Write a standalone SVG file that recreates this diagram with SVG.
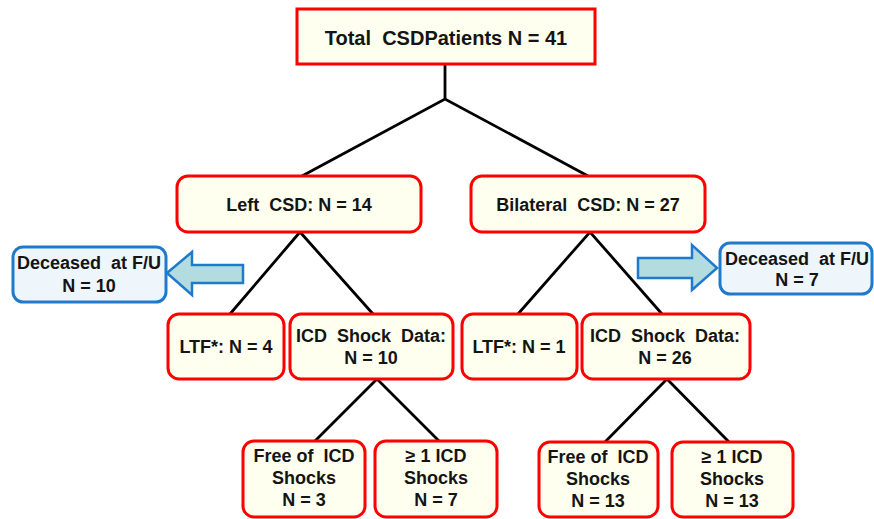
<svg xmlns="http://www.w3.org/2000/svg" width="874" height="519" viewBox="0 0 874 519">
<style>
.box{fill:#FFFFF0;stroke:#FF0000;stroke-width:3}
.blue{fill:#EEF6FC;stroke:#1F7ACB;stroke-width:3}
.arrow{fill:#B3DCE0;stroke:#1F7ACB;stroke-width:2.5;stroke-linejoin:miter}
.line{stroke:#000;stroke-width:2.8;fill:none}
text{font-family:"Liberation Sans",Arial,sans-serif;font-weight:bold;font-size:18px;fill:#141414;text-anchor:middle;white-space:pre}
</style>
<rect width="874" height="519" fill="#FFFFFF"/>
<g id="connectors">
<polyline class="line" points="445,64 445,99"/>
<polyline class="line" points="302,176 445,99 588,176"/>
<polyline class="line" points="230,314 300,232 373,314"/>
<polyline class="line" points="518,314 590,232 662,314"/>
<polyline class="line" points="315,441 377,379 439,441"/>
<polyline class="line" points="605,442 667,379 729,442"/>
</g>
<g id="total">
<rect class="box" x="297" y="9" width="298" height="55"/>
<text x="446" y="45" xml:space="preserve" style="font-size:20px">Total  CSDPatients N = 41</text>
</g>
<g id="left-csd">
<rect class="box" x="177" y="176" width="244" height="56" rx="11"/>
<text x="299" y="211" xml:space="preserve">Left  CSD: N = 14</text>
</g>
<g id="bilateral-csd">
<rect class="box" x="471" y="176" width="234" height="56" rx="11"/>
<text x="588" y="211" xml:space="preserve">Bilateral  CSD: N = 27</text>
</g>
<g id="deceased-left">
<rect class="blue" x="13" y="247" width="153" height="55" rx="10"/>
<text x="89" y="269" xml:space="preserve">Deceased  at F/U</text>
<text x="89" y="292">N = 10</text>
</g>
<g id="arrow-left">
<polygon class="arrow" points="167,273 192,252 192,265 243,265 243,283 192,283 192,295"/>
</g>
<g id="arrow-right">
<polygon class="arrow" points="717,268 692,245 692,258 638,258 638,278 692,278 692,290"/>
</g>
<g id="deceased-right">
<rect class="blue" x="720" y="243" width="152" height="51" rx="10"/>
<text x="797" y="265" xml:space="preserve">Deceased  at F/U</text>
<text x="797" y="286">N = 7</text>
</g>
<g id="ltf-left">
<rect class="box" x="168" y="314" width="116" height="65" rx="11"/>
<text x="226" y="353">LTF*: N = 4</text>
</g>
<g id="icd-left">
<rect class="box" x="290" y="314" width="163" height="65" rx="11"/>
<text x="371" y="342" xml:space="preserve">ICD  Shock  Data:</text>
<text x="371" y="364">N = 10</text>
</g>
<g id="ltf-right">
<rect class="box" x="462" y="314" width="115" height="65" rx="11"/>
<text x="519" y="353">LTF*: N = 1</text>
</g>
<g id="icd-right">
<rect class="box" x="582" y="314" width="168" height="65" rx="11"/>
<text x="665" y="342" xml:space="preserve">ICD  Shock  Data:</text>
<text x="665" y="364">N = 26</text>
</g>
<g id="free-left">
<rect class="box" x="243" y="441" width="122" height="76" rx="11"/>
<text x="304" y="462" xml:space="preserve">Free of  ICD</text>
<text x="304" y="484">Shocks</text>
<text x="304" y="506">N = 3</text>
</g>
<g id="shock-left">
<rect class="box" x="375" y="441" width="122" height="76" rx="11"/>
<text x="436" y="462">≥ 1 ICD</text>
<text x="436" y="484">Shocks</text>
<text x="436" y="506">N = 7</text>
</g>
<g id="free-right">
<rect class="box" x="539" y="442" width="119" height="75" rx="11"/>
<text x="598" y="463" xml:space="preserve">Free of  ICD</text>
<text x="598" y="485">Shocks</text>
<text x="598" y="507">N = 13</text>
</g>
<g id="shock-right">
<rect class="box" x="672" y="442" width="121" height="75" rx="11"/>
<text x="732" y="463">≥ 1 ICD</text>
<text x="732" y="485">Shocks</text>
<text x="732" y="507">N = 13</text>
</g>
</svg>
